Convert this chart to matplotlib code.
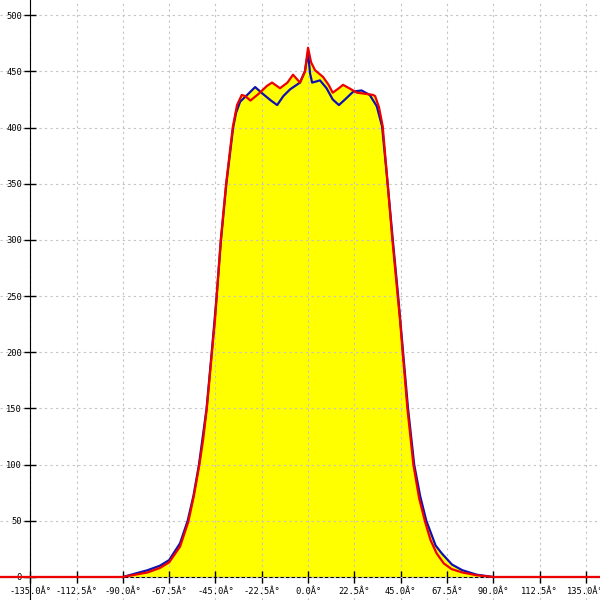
import numpy as np
import matplotlib
matplotlib.use("Agg")
import matplotlib.pyplot as plt

plt.rcParams['axes.unicode_minus'] = False

red_angles = [-150, -90, -84, -78, -72, -67.5, -62.2, -58.2, -55.5, -52.8, -51, -49.2, -46.7,
              -45.2, -44.4, -42.4, -39.8, -36.6, -34.5, -32.2, -30.5, -28, -24, -20, -17.5,
              -13.6, -10, -7.3, -3.9, -1.5, 0, 1.5, 3.4, 7.3, 10, 12, 15, 17, 20, 23.8, 28,
              31.6, 32.6, 34.5, 36.3, 38.7, 41, 43.6, 44.7, 46, 48.3, 51.2, 54, 56.9, 59.5,
              62.5, 66, 69.8, 75, 82, 90, 150]
red_values = [0, 0, 2, 4, 8, 13, 27, 49, 72, 100, 122, 150, 200,
              229, 250, 300, 350, 400, 420, 429, 428, 424, 430, 437, 440,
              435, 440, 447, 440, 450, 471, 458, 451, 445, 438, 431, 435, 438, 435, 431, 430,
              429, 428, 418, 401, 350, 300, 250, 229, 200, 150, 100, 70, 49, 33,
              21, 12, 7, 4, 1.5, 0, 0]

blue_angles = [-90, -84, -78, -72, -67.5, -62.2, -58.5, -55.7, -53, -49.3, -46.8, -44.4,
               -42.3, -39.7, -36.4, -35, -33, -29, -25.7, -22, -18, -15, -12, -8.7, -3.9,
               -1.5, 0, 1, 2, 4, 5.8, 9, 12, 15, 18, 22, 26, 30, 33.4, 36, 38.7, 41.2, 43.8,
               46.2, 48.6, 51.6, 54.5, 57.5, 62, 65, 70, 75, 82, 90]
blue_values = [0, 3, 6, 10, 15, 30, 50, 72, 100, 150, 200, 250,
               300, 350, 400, 413, 423, 430, 436, 430, 424, 420, 428, 434, 440,
               450, 467, 448, 440, 441, 442, 435, 425, 420, 425, 432, 433, 429, 419, 401, 350, 300, 250,
               200, 150, 100, 72, 50, 28, 21, 11, 6, 2, 0]

x_ticks = [-135, -112.5, -90, -67.5, -45, -22.5, 0, 22.5, 45, 67.5, 90, 112.5, 135]
x_tick_labels = ["-135.0Â°", "-112.5Â°", "-90.0Â°", "-67.5Â°", "-45.0Â°", "-22.5Â°", "0.0Â°",
                 "22.5Â°", "45.0Â°", "67.5Â°", "90.0Â°", "112.5Â°", "135.0Â°"]
y_ticks = [0, 50, 100, 150, 200, 250, 300, 350, 400, 450, 500]
y_tick_labels = [str(v) for v in y_ticks]

fig = plt.figure(figsize=(6, 6), dpi=100)
ax = fig.add_axes([0, 0, 1, 1])
ax.set_xlim(-149.7, 141.9)
ax.set_ylim(-20.5, 513.5)

grid = np.union1d(red_angles, blue_angles)
fill_top = np.maximum(np.interp(grid, red_angles, red_values),
                      np.interp(grid, blue_angles, blue_values, left=0, right=0))
ax.fill_between(grid, 0, fill_top, color='#ffff00', lw=0, zorder=1)

ax.plot(blue_angles, blue_values, color='#1010b0', lw=1.6, zorder=3)
ax.plot(red_angles, red_values, color='#ee0000', lw=1.6, zorder=4, clip_on=False)

for s in ['top', 'right']:
    ax.spines[s].set_visible(False)
ax.spines['left'].set_position(('data', -135))
ax.spines['bottom'].set_position(('data', 0))
ax.spines['left'].set_color('black')
ax.spines['bottom'].set_color('black')
ax.spines['left'].set_zorder(2.8)

ax.set_xticks(x_ticks)
ax.set_xticklabels(x_tick_labels, family='DejaVu Sans Mono', fontsize=6.3)
ax.set_yticks(y_ticks)
ax.set_yticklabels(y_tick_labels, family='DejaVu Sans Mono', fontsize=6.3)
ax.tick_params(axis='both', direction='inout', length=8, width=1, color='black', pad=2)
ax.tick_params(axis='x', pad=3)

ax.grid(True, color='#c4c4c4', linestyle=(0, (2, 3)), lw=0.8)
ax.set_axisbelow(False)
for gl in ax.get_xgridlines() + ax.get_ygridlines():
    gl.set_zorder(2)

fig.savefig('out.png', dpi=100, facecolor='white')
